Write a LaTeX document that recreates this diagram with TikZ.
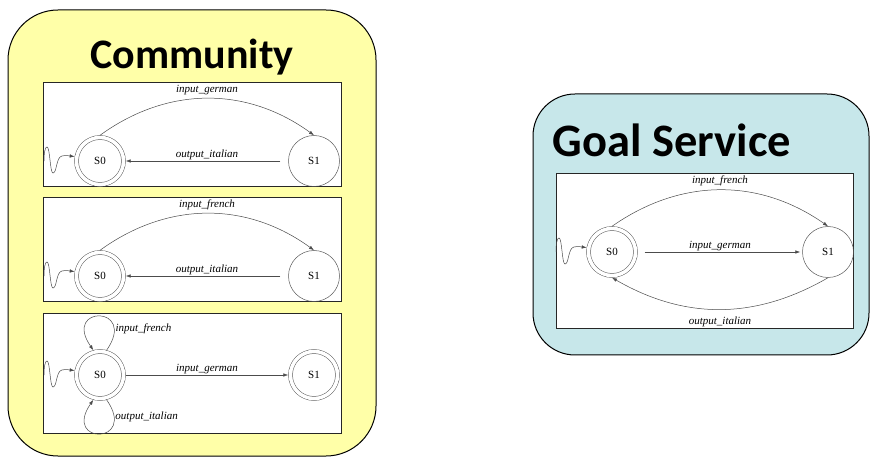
\documentclass[tikz,border=0pt]{standalone}
\usepackage{fontspec}
\setmainfont{Liberation Serif}
\newfontfamily\titlefont{Carlito}
\usetikzlibrary{arrows.meta,calc}

\definecolor{commfill}{RGB}{255,255,168}
\definecolor{goalfill}{RGB}{199,231,234}

\tikzset{
  bigbox/.style={draw=black, line width=1pt},
  panel/.style={draw=black!85, line width=0.9pt, fill=white},
  state/.style={circle, draw=black!65, line width=0.5pt, minimum size=51pt, inner sep=0pt,
    font=\fontsize{11}{12}\selectfont},
  accepting/.style={state, minimum size=47pt, double, double distance=3.5pt, outer sep=2.2pt},
  trans/.style={draw=black!70, line width=0.5pt, -{Latex[length=5pt,width=3.5pt]}},
  lbl/.style={font=\fontsize{11}{12}\selectfont\itshape, inner sep=1pt},
  title/.style={font=\titlefont\bfseries\fontsize{#1}{#1}\selectfont}
}

% 初始箭头 (波浪线)
\newcommand{\startarrow}[1]{%
  \begin{scope}[shift={(#1.center)}]
    \coordinate (#1-in) at (-56,0);
    \draw[trans] (#1-in) .. controls (-56,8) and (-55,14) .. (-53,14)
      .. controls (-50,14) and (-50,-12) .. (-47,-12)
      .. controls (-43,-12) and (-44,4) .. (-38,5)
      .. controls (-34,6) and (-30,5) .. (#1.170);
  \end{scope}}

\begin{document}
\begin{tikzpicture}[x=1pt,y=1pt]
\useasboundingbox (0,0) rectangle (871,-457);

% 两个大圆角框
\draw[bigbox, fill=commfill, rounded corners=50pt] (8,-10) rectangle (376,-456);
\draw[bigbox, fill=goalfill, rounded corners=42pt] (533,-94) rectangle (869,-355);
\node[title=42] (commtitle) at (192,-57) {Community};
\node[title=46.5] (goaltitle) at (672,-140) {Goal Service};

% 三个子自动机
\draw[panel] (43,-82) rectangle (341,-186);
\draw[panel] (43,-197) rectangle (341,-301);
\draw[panel] (43,-313) rectangle (341,-433);
\draw[panel] (556,-173) rectangle (853,-328);

% 第一个
\node[accepting] (S0a) at (100,-161) {S0};
\node[state] (S1a) at (314,-161) {S1};
\startarrow{S0a}
\draw[trans] (S0a.north) to[out=36,in=144] node[lbl,above=2pt] {input\_german} (S1a.north);
\draw[trans, shorten <=8pt] (S1a) -- node[lbl,above] {output\_italian} (S0a);

% 第二个
\node[accepting] (S0b) at (100,-276) {S0};
\node[state] (S1b) at (314,-276) {S1};
\startarrow{S0b}
\draw[trans] (S0b.north) to[out=36,in=144] node[lbl,above=2pt] {input\_french} (S1b.north);
\draw[trans, shorten <=8pt] (S1b) -- node[lbl,above] {output\_italian} (S0b);

% 第三个
\node[accepting] (S0c) at (100,-375) {S0};
\node[accepting] (S1c) at (314,-375) {S1};
\startarrow{S0c}
\draw[trans] (S0c.75) .. controls ($(S0c)+(38,70)$) and ($(S0c)+(-38,70)$) .. node[lbl,pos=0.2,right] {input\_french} (S0c.105);
\draw[trans] (S0c.-75) .. controls ($(S0c)+(38,-70)$) and ($(S0c)+(-38,-70)$) .. node[lbl,pos=0.15,right] {output\_italian} (S0c.-105);
\draw[trans] (S0c) -- node[lbl,above] {input\_german} (S1c);

% 目标服务
\node[accepting] (S0g) at (612,-252) {S0};
\node[state] (S1g) at (828,-252) {S1};
\startarrow{S0g}
\draw[trans] (S0g.north) to[out=35,in=145] node[lbl,above=3pt] {input\_french} (S1g.north);
\draw[trans, shorten <=7pt, shorten >=2pt] (S0g) -- node[lbl,above] {input\_german} (S1g);
\draw[trans] (S1g.south) to[out=-150,in=-30] node[lbl,below=6pt] {output\_italian} (S0g.south);
\end{tikzpicture}
\end{document}
